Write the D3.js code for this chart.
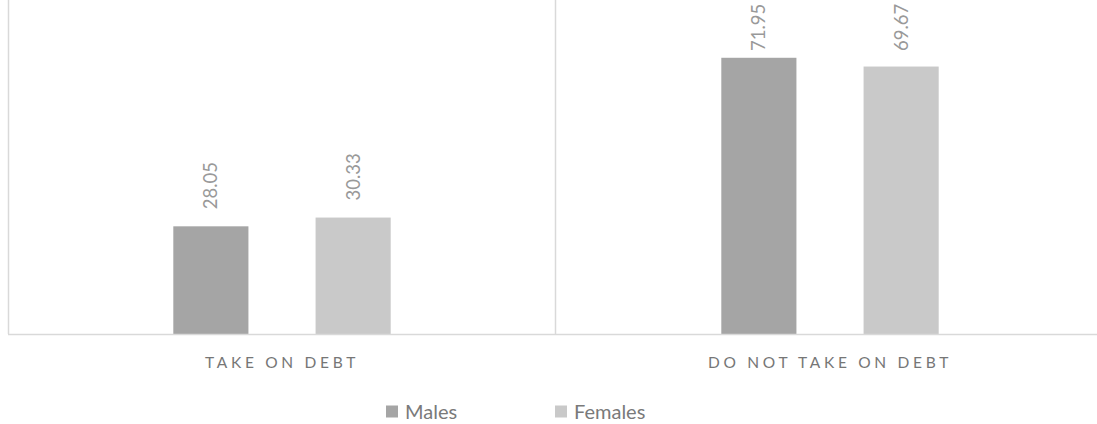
<!DOCTYPE html>
<html><head><meta charset="utf-8">
<script src="https://cdn.jsdelivr.net/npm/d3@7"></script>
<style>body{margin:0;background:#fff}svg{display:block}</style>
</head><body>
<script>
const categories = ["TAKE ON DEBT", "DO NOT TAKE ON DEBT"];
const seriesNames = ["Males", "Females"];
const males = [28.05, 71.95];
const females = [30.33, 69.67];
const seriesColors = ["#a5a5a5", "#c9c9c9"];

const W = 1097, H = 424;
const svg = d3.select("body").append("svg").attr("width", W).attr("height", H);
const font = "Lato, 'Open Sans', sans-serif";

const x0 = d3.scaleBand().domain(categories).range([8, 1104]).paddingInner(0).paddingOuter(0);
const x1 = d3.scaleBand().domain(seriesNames).range([0, x0.bandwidth()]).paddingInner(0.472).paddingOuter(1.162);
const y = d3.scaleLinear().domain([0, 87]).range([334, 0]);

const data = categories.map((c, i) => ({cat: c, vals: [males[i], females[i]]}));

// gridlines / frame
svg.append("line").attr("x1", 8.5).attr("x2", 8.5).attr("y1", 0).attr("y2", 334).attr("stroke", "#d9d9d9").attr("stroke-width", 1.5);
svg.append("line").attr("x1", x0(categories[1]) - 0.5).attr("x2", x0(categories[1]) - 0.5).attr("y1", 0).attr("y2", 334).attr("stroke", "#d9d9d9").attr("stroke-width", 1.5);

const g = svg.selectAll("g.cat").data(data).enter().append("g").attr("transform", d => `translate(${x0(d.cat)},0)`);
g.selectAll("rect").data(d => d.vals.map((v, j) => ({s: seriesNames[j], v, j}))).enter().append("rect")
  .attr("x", d => x1(d.s)).attr("width", x1.bandwidth())
  .attr("y", d => y(d.v)).attr("height", d => y(0) - y(d.v))
  .attr("fill", d => seriesColors[d.j]);
g.selectAll("text.val").data(d => d.vals.map((v, j) => ({s: seriesNames[j], v, j}))).enter().append("text")
  .attr("class", "val")
  .attr("transform", d => `translate(${x1(d.s) + x1.bandwidth()/2 + 6.5},${Math.max(y(d.v) - 17, 51)}) rotate(-90)`)
  .attr("text-anchor", "start")
  .attr("font-family", font).attr("font-size", 18.5).attr("fill", "#999999")
  .text(d => d.v.toFixed(2));

// axis baseline
svg.append("line").attr("x1", 8).attr("x2", W).attr("y1", 334.5).attr("y2", 334.5).attr("stroke", "#d9d9d9").attr("stroke-width", 1.5);

// category labels
const xAxis = d3.axisBottom(x0).tickSize(0).tickPadding(0);
const ax = svg.append("g").attr("transform", "translate(0,335)").call(xAxis);
ax.select(".domain").remove();
ax.selectAll("text").attr("dy", 0).attr("y", 33)
  .attr("font-family", font).attr("font-size", 15.5).attr("fill", "#767676")
  .attr("letter-spacing", "3.7px");

// legend
const legX = [386, 555];
const leg = svg.selectAll("g.leg").data(seriesNames).enter().append("g").attr("transform", (d, i) => `translate(${legX[i]},405)`);
leg.append("rect").attr("width", 12).attr("height", 12).attr("y", 0.5).attr("fill", (d, i) => seriesColors[i]);
leg.append("text").attr("x", 19).attr("y", 13.5).attr("font-family", font).attr("font-size", 20).attr("fill", "#7a7a7a").text(d => d);
</script>
</body></html>
